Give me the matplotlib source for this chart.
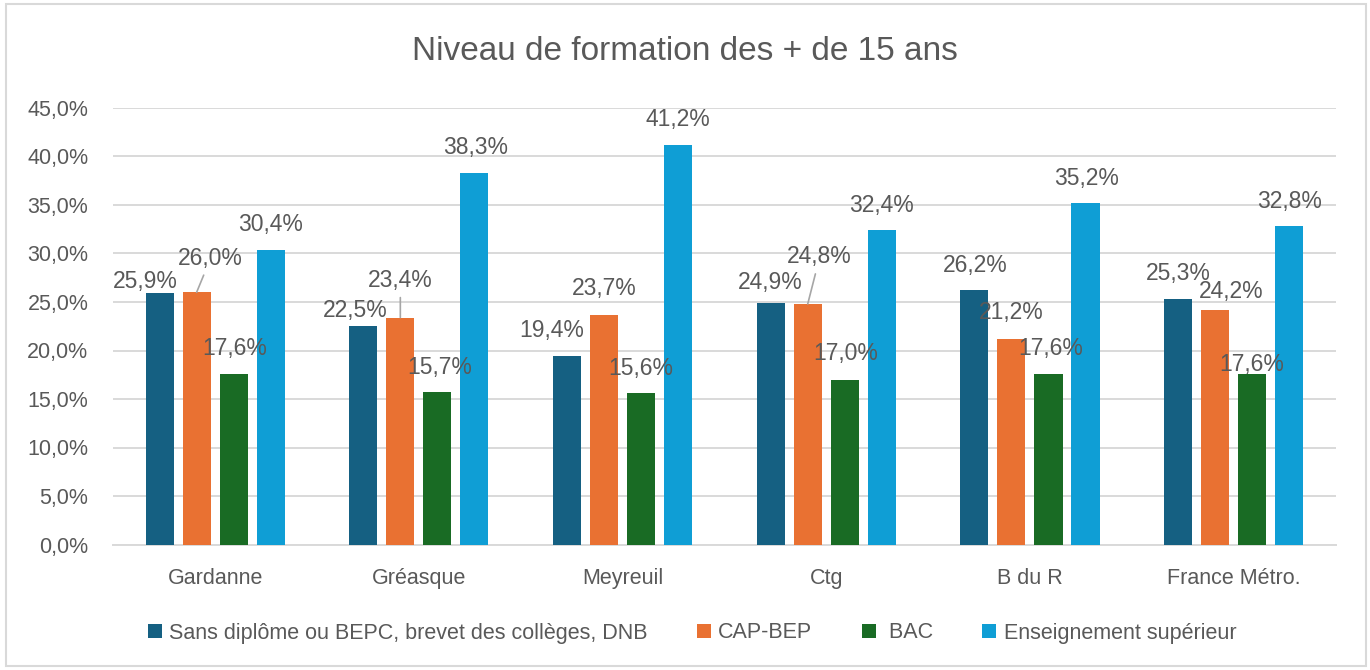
import numpy as np
import matplotlib
matplotlib.use("Agg")
import matplotlib.pyplot as plt
from matplotlib.patches import Patch, Rectangle
from matplotlib.ticker import FuncFormatter, MultipleLocator

# ---------------- data ----------------
categories = ["Gardanne", "Gréasque", "Meyreuil", "Ctg", "B du R", "France Métro."]
series_names = ["Sans diplôme ou BEPC, brevet des collèges, DNB", "CAP-BEP", " BAC",
                "Enseignement supérieur"]
sans_diplome = [25.9, 22.5, 19.4, 24.9, 26.2, 25.3]
cap_bep = [26.0, 23.4, 23.7, 24.8, 21.2, 24.2]
bac = [17.6, 15.7, 15.6, 17.0, 17.6, 17.6]
superieur = [30.4, 38.3, 41.2, 32.4, 35.2, 32.8]
title = "Niveau de formation des + de 15 ans"

# ---------------- style / layout ----------------
colors = ["#156082", "#E97132", "#196B24", "#0F9ED5"]
text_color = "#595959"
grid_color = "#d9d9d9"
font = ["Liberation Sans", "DejaVu Sans"]

# label offsets (pixels, relative to bar top centre) and leader-line flags
label_offsets = [
    [(-14, 12), (-8, 16), (-15, 26), (0, 20), (1, 25), (0, 26)],
    [(14, 34), (0, 37), (0, 26), (12, 47), (0, 26), (16, 18)],
    [(1, 25), (2, 25), (0, 25), (1, 26), (2, 25), (0, 9)],
    [(0, 25), (1, 25), (0, 25), (0, 25), (1, 25), (0, 25)],
]
leader = [
    [False] * 6,
    [True, True, False, True, False, False],
    [False] * 6,
    [False] * 6,
]

W, H = 1370, 670
fig = plt.figure(figsize=(W / 100, H / 100), dpi=100)
ax = fig.add_axes([113.3 / W, 1 - 544.5 / H, (1335.5 - 113.3) / W, (544.5 - 108) / H])

series = [sans_diplome, cap_bep, bac, superieur]
x = np.arange(len(categories))
step = 0.1818
width = 0.138

for i, vals in enumerate(series):
    xs = x + (i - 1.5) * step
    ax.bar(xs, vals, width, color=colors[i], zorder=3)
    for j, v in enumerate(vals):
        txt = f"{v:.1f}".replace(".", ",") + "%"
        dx, dy = label_offsets[i][j]
        kw = {}
        if leader[i][j]:
            kw["arrowprops"] = dict(arrowstyle="-", color="#a6a6a6", lw=1.2,
                                    shrinkA=2, shrinkB=0)
        ax.annotate(txt, xy=(xs[j], v), xytext=(dx, dy), textcoords="offset pixels",
                    ha="center", va="center", fontsize=16.5, color=text_color,
                    family=font, zorder=4, **kw)

ax.set_xlim(-0.5, len(categories) - 0.5)
ax.set_ylim(0, 45)
ax.yaxis.set_major_locator(MultipleLocator(5))
ax.yaxis.set_major_formatter(FuncFormatter(lambda v, p: f"{v:.1f}".replace(".", ",") + "%"))
ax.set_xticks(x)
ax.set_xticklabels(categories)
for lab in ax.get_xticklabels() + ax.get_yticklabels():
    lab.set_fontfamily(font)
    lab.set_fontsize(15.5)
    lab.set_color(text_color)
ax.tick_params(axis="both", length=0)
ax.tick_params(axis="y", pad=18)
ax.tick_params(axis="x", pad=17)
ax.grid(axis="y", color=grid_color, lw=1.4, zorder=0)
ax.set_axisbelow(True)
for s in ["left", "right", "top"]:
    ax.spines[s].set_visible(False)
ax.spines["bottom"].set_color(grid_color)
ax.spines["bottom"].set_linewidth(1.4)

fig.text(0.5, 1 - 51 / H, title, ha="center", va="center", fontsize=24,
         color=text_color, family=font)

handles = [Patch(facecolor=c) for c in colors]
fig.legend(handles, series_names, loc="center", bbox_to_anchor=(692 / W, 1 - 633 / H),
           ncol=4, frameon=False, prop={"family": font, "size": 15.5},
           handlelength=0.65, handleheight=0.65, handletextpad=0.33,
           columnspacing=2.3, labelcolor=text_color)

fig.patches.append(Rectangle((6 / W, 4 / H), 1360 / W, 662 / H, transform=fig.transFigure,
                             fill=False, edgecolor=grid_color, lw=1.5))

fig.savefig("out.png", dpi=100)
